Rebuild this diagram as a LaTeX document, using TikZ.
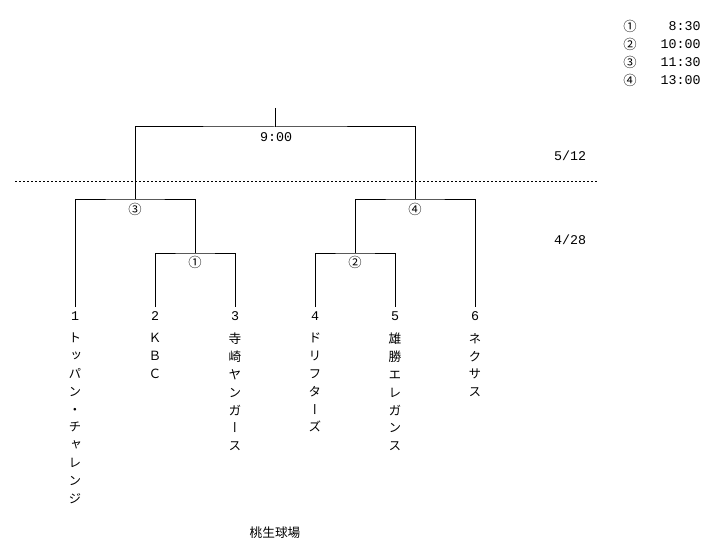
\documentclass[tikz,border=0pt]{standalone}
\usepackage{fontspec}
\setmainfont{Noto Sans CJK JP}
\newfontfamily\cjkv[RawFeature=+vert]{Noto Sans CJK JP}
\newfontfamily\mono{Liberation Mono}
\begin{document}
\begin{tikzpicture}[x=0.75pt,y=-0.75pt,
  br/.style={line width=0.75pt},
  num/.style={font=\mono\fontsize{10}{12}\selectfont, inner sep=0pt},
  circ/.style={font=\fontsize{10}{11}\selectfont, inner sep=0pt},
  team/.style={font=\cjkv\fontsize{9.5}{13.35}\selectfont, align=center, anchor=north, inner sep=0pt},
  lab/.style={font=\fontsize{9.5}{11}\selectfont, inner sep=0pt}]
\useasboundingbox (0,0) rectangle (727,549);
% junctions
\coordinate (root) at (275,108);
\coordinate (fin) at (275,127);
\coordinate (sL) at (135,199);
\coordinate (sR) at (415,199);
\coordinate (q1) at (195,253);
\coordinate (q2) at (355,253);
\coordinate (t1) at (75,307);
\coordinate (t2) at (155,307);
\coordinate (t3) at (235,307);
\coordinate (t4) at (315,307);
\coordinate (t5) at (395,307);
\coordinate (t6) at (475,307);
% bracket
\draw[br] (root) -- (fin);
\draw[br] (sL) |- (fin) -| (sR);
\draw[br] (t1) |- (sL) -| (q1);
\draw[br] (t2) |- (q1) -| (t3);
\draw[br] (q2) |- (sR) -| (t6);
\draw[br] (t4) |- (q2) -| (t5);
% dotted separator
\coordinate (dA) at (15,181.5);
\coordinate (dB) at (598,181.5);
\draw[line width=0.6pt, dash pattern=on 1.5pt off 1.5pt] (dA) -- (dB);
% match labels
\node[num] (tfin) at (276,137) {9:00};
\node[circ] (m3) at (135,209) {③};
\node[circ] (m4) at (415,209) {④};
\node[circ] (m1) at (195,262) {①};
\node[circ] (m2) at (355,262) {②};
% team numbers
\node[num] (n1) at (75,316) {1};
\node[num] (n2) at (155,316) {2};
\node[num] (n3) at (235,316) {3};
\node[num] (n4) at (315,316) {4};
\node[num] (n5) at (395,316) {5};
\node[num] (n6) at (475,316) {6};
% team names (vertical)
\node[team] (a1) at (75,333) {ト\\ッ\\パ\\ン\\・\\チ\\ャ\\レ\\ン\\ジ};
\node[team] (a2) at (155,333) {Ｋ\\Ｂ\\Ｃ};
\node[team] (a3) at (235,333) {寺\\崎\\ヤ\\ン\\ガ\\ー\\ス};
\node[team] (a4) at (315,333) {ド\\リ\\フ\\タ\\ー\\ズ};
\node[team] (a5) at (395,333) {雄\\勝\\エ\\レ\\ガ\\ン\\ス};
\node[team] (a6) at (475,333) {ネ\\ク\\サ\\ス};
% dates
\node[num] (d1) at (570,156) {5/12};
\node[num] (d2) at (570,240) {4/28};
% legend
\node[circ] (l1) at (630,26) {①};
\node[circ] (l2) at (630,44) {②};
\node[circ] (l3) at (630,62) {③};
\node[circ] (l4) at (630,80) {④};
\node[num, anchor=east] (k1) at (701,26) {8:30};
\node[num, anchor=east] (k2) at (701,44) {10:00};
\node[num, anchor=east] (k3) at (701,62) {11:30};
\node[num, anchor=east] (k4) at (701,80) {13:00};
% venue
\node[lab] (venue) at (275,533) {桃生球場};
\end{tikzpicture}
\end{document}
